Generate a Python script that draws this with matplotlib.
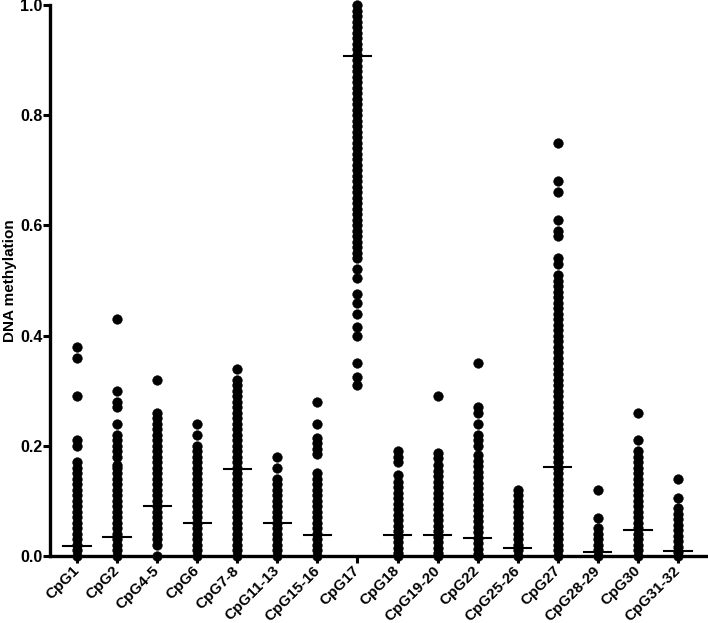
import matplotlib as mpl
mpl.use('Agg')
import matplotlib.pyplot as plt

labels = ['CpG1', 'CpG2', 'CpG4-5', 'CpG6', 'CpG7-8', 'CpG11-13', 'CpG15-16', 'CpG17',
          'CpG18', 'CpG19-20', 'CpG22', 'CpG25-26', 'CpG27', 'CpG28-29', 'CpG30', 'CpG31-32']

cpg1 = [0.38, 0.36, 0.29, 0.21, 0.20, 0.17, 0.16, 0.15, 0.14, 0.13, 0.12, 0.11, 0.10, 0.09,
        0.08, 0.07, 0.06, 0.05, 0.04, 0.03, 0.02, 0.01, 0.00]
cpg2 = [0.43, 0.30, 0.28, 0.27, 0.24, 0.22, 0.21, 0.20, 0.19, 0.18, 0.165, 0.16, 0.15, 0.14,
        0.13, 0.12, 0.11, 0.10, 0.09, 0.08, 0.07, 0.06, 0.05, 0.04, 0.03, 0.02, 0.01, 0.00]
cpg4_5 = [0.32, 0.26, 0.25, 0.24, 0.23, 0.22, 0.21, 0.20, 0.19, 0.18, 0.17, 0.16, 0.15, 0.14,
          0.13, 0.12, 0.11, 0.10, 0.09, 0.08, 0.07, 0.06, 0.05, 0.04, 0.03, 0.02, 0.00]
cpg6 = [0.24, 0.22, 0.20, 0.19, 0.18, 0.17, 0.16, 0.15, 0.14, 0.13, 0.12, 0.11, 0.10, 0.09,
        0.08, 0.07, 0.06, 0.05, 0.04, 0.03, 0.02, 0.01, 0.00]
cpg7_8 = [0.34, 0.32, 0.31, 0.30, 0.29, 0.28, 0.27, 0.26, 0.25, 0.24, 0.23, 0.22, 0.21, 0.20,
          0.19, 0.18, 0.17, 0.16, 0.15, 0.14, 0.13, 0.12, 0.11, 0.10, 0.09, 0.08, 0.07, 0.06,
          0.05, 0.04, 0.03, 0.02, 0.01, 0.00]
cpg11_13 = [0.18, 0.16, 0.14, 0.13, 0.12, 0.11, 0.10, 0.09, 0.08, 0.07, 0.06, 0.05, 0.04,
            0.03, 0.02, 0.01, 0.00]
cpg15_16 = [0.28, 0.24, 0.215, 0.205, 0.195, 0.185, 0.15, 0.14, 0.13, 0.12, 0.11, 0.10, 0.09,
            0.08, 0.07, 0.06, 0.05, 0.04, 0.03, 0.02, 0.01, 0.00]
cpg17 = [1.00, 0.99, 0.98, 0.97, 0.96, 0.95, 0.94, 0.93, 0.92, 0.91, 0.90, 0.89, 0.88, 0.87,
         0.86, 0.85, 0.84, 0.83, 0.82, 0.81, 0.80, 0.79, 0.78, 0.77, 0.76, 0.75, 0.74, 0.73,
         0.72, 0.71, 0.70, 0.69, 0.68, 0.67, 0.66, 0.65, 0.64, 0.63, 0.62, 0.61, 0.60, 0.59,
         0.58, 0.57, 0.56, 0.55, 0.54, 0.52, 0.505, 0.475, 0.46, 0.44, 0.415, 0.40, 0.35,
         0.325, 0.31]
cpg18 = [0.19, 0.18, 0.17, 0.147, 0.135, 0.125, 0.115, 0.105, 0.095, 0.085, 0.075, 0.065,
         0.055, 0.045, 0.035, 0.025, 0.015, 0.005, 0.00]
cpg19_20 = [0.29, 0.187, 0.177, 0.165, 0.155, 0.145, 0.135, 0.125, 0.115, 0.105, 0.095, 0.085,
            0.075, 0.065, 0.055, 0.045, 0.035, 0.025, 0.015, 0.005, 0.00]
cpg22 = [0.35, 0.27, 0.26, 0.24, 0.22, 0.21, 0.20, 0.183, 0.173, 0.163, 0.153, 0.143, 0.133,
         0.123, 0.113, 0.103, 0.093, 0.083, 0.073, 0.063, 0.053, 0.043, 0.033, 0.023, 0.013,
         0.003, 0.00]
cpg25_26 = [0.12, 0.11, 0.10, 0.09, 0.08, 0.07, 0.06, 0.05, 0.04, 0.03, 0.02, 0.01, 0.00]
cpg27 = [0.75, 0.68, 0.66, 0.61, 0.59, 0.58, 0.54, 0.53, 0.51, 0.50, 0.49, 0.48, 0.47, 0.46,
         0.45, 0.44, 0.43, 0.42, 0.41, 0.40, 0.39, 0.38, 0.37, 0.36, 0.35, 0.34, 0.33, 0.32,
         0.31, 0.30, 0.29, 0.28, 0.27, 0.26, 0.25, 0.24, 0.23, 0.22, 0.21, 0.20, 0.19, 0.18,
         0.17, 0.16, 0.15, 0.14, 0.13, 0.12, 0.11, 0.10, 0.09, 0.08, 0.07, 0.06, 0.05, 0.04,
         0.03, 0.02, 0.01, 0.00]
cpg28_29 = [0.12, 0.069, 0.05, 0.04, 0.03, 0.02, 0.01, 0.00]
cpg30 = [0.26, 0.21, 0.19, 0.18, 0.17, 0.16, 0.15, 0.14, 0.13, 0.12, 0.11, 0.10, 0.09, 0.08,
         0.07, 0.06, 0.05, 0.04, 0.03, 0.02, 0.01, 0.00]
cpg31_32 = [0.14, 0.105, 0.087, 0.077, 0.067, 0.057, 0.047, 0.037, 0.027, 0.017, 0.007, 0.00]

medians = [0.018, 0.035, 0.091, 0.059, 0.158, 0.060, 0.038, 0.907,
           0.038, 0.039, 0.033, 0.0145, 0.161, 0.0067, 0.048, 0.0097]

groups = [cpg1, cpg2, cpg4_5, cpg6, cpg7_8, cpg11_13, cpg15_16, cpg17,
          cpg18, cpg19_20, cpg22, cpg25_26, cpg27, cpg28_29, cpg30, cpg31_32]

plt.rc('font', family=['Liberation Sans', 'DejaVu Sans'], weight='bold')

fig = plt.figure(figsize=(7.08, 6.23), dpi=100)
ax = fig.add_axes([50/708, 67/623, 658/708, 551/623])

for i in range(len(groups)):
    ax.plot([i]*len(groups[i]), groups[i], linestyle='none', marker='o',
            markersize=7.0, color='k', markeredgewidth=0.3, clip_on=False, zorder=3)
    ax.plot([i-0.34, i+0.34], [medians[i], medians[i]], color='k', linewidth=1.5,
            clip_on=False, zorder=4)

ax.set_xlim(-0.675, 15.75)
ax.set_ylim(0, 1.0)
ax.set_yticks([0.0, 0.2, 0.4, 0.6, 0.8, 1.0])
ax.set_yticklabels(['0.0', '0.2', '0.4', '0.6', '0.8', '1.0'])
ax.set_xticks(range(len(labels)))
ax.set_xticklabels(labels, rotation=45, ha='right', va='center', rotation_mode='anchor')
ax.tick_params(axis='y', labelsize=11.5, width=2.2, length=5, pad=0.5, direction='out')
ax.tick_params(axis='x', labelsize=11, width=2.2, length=5, pad=4, direction='out')
ax.set_ylabel('DNA methylation', fontsize=11, fontweight='bold')
ax.yaxis.set_label_coords(-0.050, 0.5)

for s in ['top', 'right']:
    ax.spines[s].set_visible(False)
for s in ['left', 'bottom']:
    ax.spines[s].set_linewidth(2.4)

fig.savefig('out.png', dpi=100)
plt.close()
